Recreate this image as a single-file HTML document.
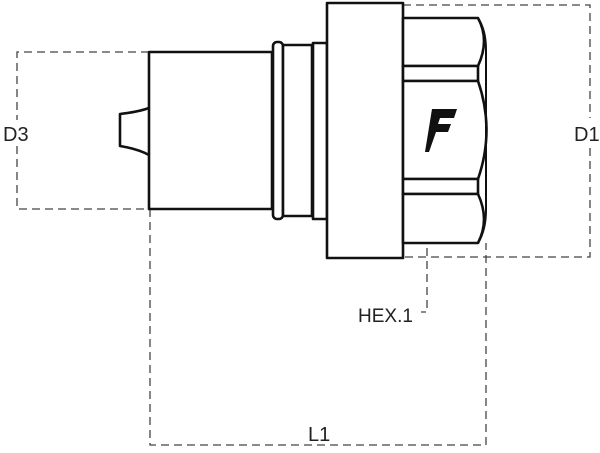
<!DOCTYPE html>
<html><head><style>
html,body{margin:0;padding:0;background:#fff;width:600px;height:453px;overflow:hidden}
svg{display:block}
text{font-family:"Liberation Sans",sans-serif;font-size:20px;fill:#222}
</style></head><body>
<svg width="600" height="453" viewBox="0 0 600 453">
<g fill="none" stroke="#444" stroke-width="1.3" stroke-dasharray="8,5">
<path d="M149 52H17V120M17 146V209H149"/>
<path d="M403 5H590V118M590 148V257H403"/>
<path d="M150 209V445H486V243"/>
<path d="M427 248V312H421"/>
</g>
<g fill="#fff" stroke="#111" stroke-width="2.6" stroke-linejoin="round">
<path d="M149 108Q138 112 120 114V146Q138 149 149 155"/>
<rect x="149" y="52" width="123" height="157"/>
<rect x="273" y="42" width="10" height="177" rx="4"/>
<rect x="283" y="45" width="29" height="171"/>
<rect x="313" y="43" width="14" height="176"/>
<rect x="327" y="3" width="76" height="255"/>
<path d="M403 18H478Q490 40 478 66H403Z"/>
<path d="M403 66H478V81H403Z"/>
<path d="M403 81H478Q495 130 478 179H403Z"/>
<path d="M403 179H478V194H403Z"/>
<path d="M403 194H478Q490 220 478 243H403Z"/>
</g>
<path d="M478 18Q486 30 486 50V210Q486 230 478 243" fill="none" stroke="#111" stroke-width="2"/>
<path d="M432 109H457L454 118H440L438 124H451L448 132H436L429 152H425Z" fill="#111"/>
<text x="3" y="141">D3</text>
<text x="574" y="141">D1</text>
<text x="308" y="441">L1</text>
<text x="358" y="322" style="font-size:19px">HEX.1</text>
</svg>
</body></html>
